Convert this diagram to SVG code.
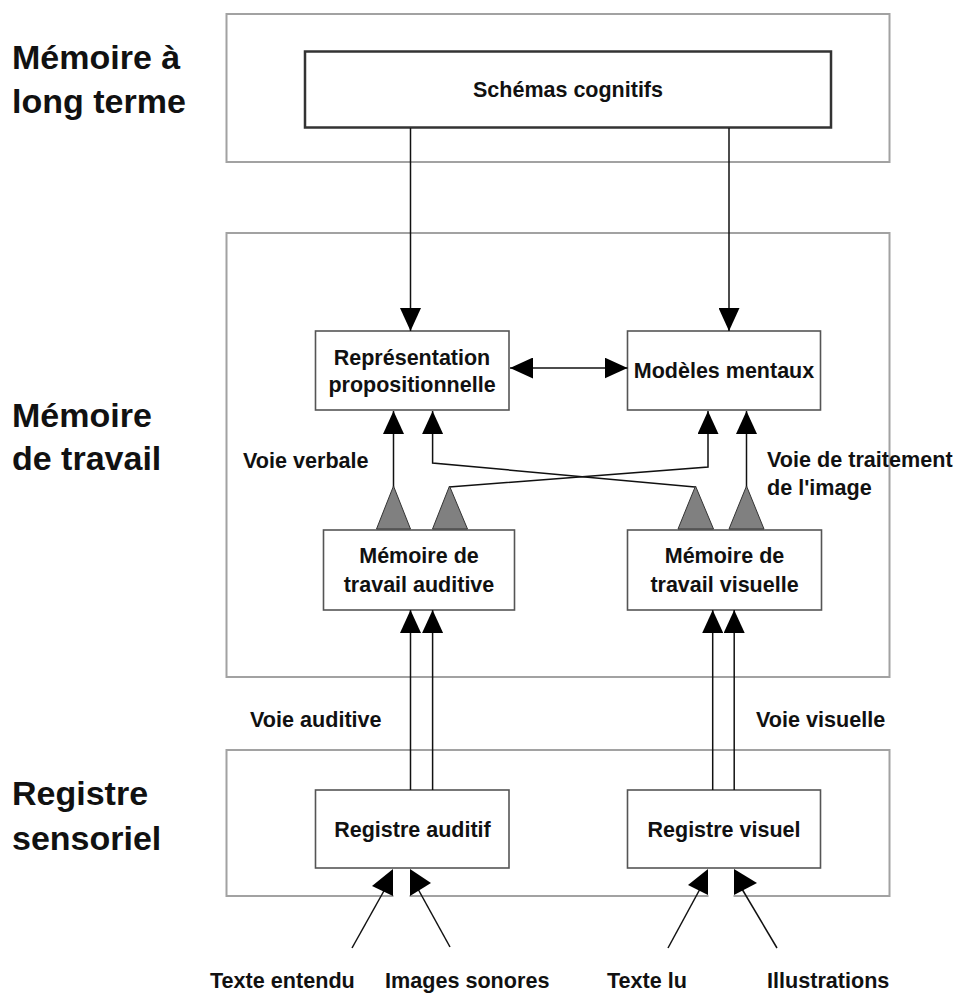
<svg xmlns="http://www.w3.org/2000/svg" width="958" height="997" viewBox="0 0 958 997">
<style>
text{font-family:"Liberation Sans",Arial,sans-serif;font-weight:bold;fill:#111}
.big{font-size:34px}
.lab{font-size:21.6px}
.nt{font-size:21.5px;text-anchor:middle}
.outer{fill:none;stroke:#a2a2a2;stroke-width:2}
.node{fill:#fff;stroke:#555;stroke-width:1.6}
.con{fill:none;stroke:#111;stroke-width:1.5}
.tri{fill:#808080;stroke:#333;stroke-width:1}
.head{fill:#000}
</style>
<defs>
<marker id="arr" markerUnits="userSpaceOnUse" markerWidth="23" markerHeight="21" viewBox="0 0 23 21" refX="23" refY="10.5" orient="auto-start-reverse">
<path d="M0,0 L23,10.5 L0,21 z" fill="#000"/>
</marker>
</defs>
<rect width="958" height="997" fill="#fff"/>

<g id="layer-labels">
<text class="big" x="12" y="69">Mémoire à</text>
<text class="big" x="12" y="113">long terme</text>
<text class="big" x="12" y="427">Mémoire</text>
<text class="big" x="12" y="470">de travail</text>
<text class="big" x="12" y="805">Registre</text>
<text class="big" x="12" y="850">sensoriel</text>
</g>

<g id="ltm"><rect class="outer" x="226.5" y="14" width="663" height="148"/></g>
<g id="wm"><rect class="outer" x="226.5" y="233" width="663" height="444"/></g>
<g id="sr"><rect class="outer" x="226.5" y="750" width="663" height="146"/></g>

<g id="schemas"><rect x="305" y="51.5" width="526" height="76" fill="#fff" stroke="#333" stroke-width="2.5"/>
<text class="nt" x="568" y="97">Schémas cognitifs</text></g>

<g id="rep"><rect class="node" x="315.5" y="331" width="193.5" height="79"/>
<text class="nt" x="412" y="365">Représentation</text>
<text class="nt" x="412" y="392">propositionnelle</text></g>

<g id="modeles"><rect class="node" x="627.5" y="331" width="193" height="79"/>
<text class="nt" x="724" y="378">Modèles mentaux</text></g>

<g id="mta"><rect class="node" x="323.5" y="530" width="191" height="80"/>
<text class="nt" x="419" y="563">Mémoire de</text>
<text class="nt" x="419" y="592">travail auditive</text></g>

<g id="mtv"><rect class="node" x="627.5" y="530" width="194" height="80"/>
<text class="nt" x="724.5" y="563">Mémoire de</text>
<text class="nt" x="724.5" y="592">travail visuelle</text></g>

<g id="rega"><rect class="node" x="315.5" y="790" width="193.5" height="78"/>
<text class="nt" x="412.5" y="837">Registre auditif</text></g>

<g id="regv"><rect class="node" x="627.5" y="790" width="193" height="78"/>
<text class="nt" x="724" y="837">Registre visuel</text></g>

<g id="connectors">
<line class="con" x1="410.5" y1="128" x2="410.5" y2="331" marker-end="url(#arr)"/>
<line class="con" x1="729" y1="128" x2="729" y2="331" marker-end="url(#arr)"/>
<line class="con" x1="510" y1="368" x2="627.5" y2="368" marker-start="url(#arr)" marker-end="url(#arr)"/>
<line class="con" x1="393.5" y1="487" x2="393.5" y2="411" marker-end="url(#arr)"/>
<polyline class="con" points="695,487 432.6,463 432.6,411" marker-end="url(#arr)"/>
<polyline class="con" points="449,487 708,467 708,411" marker-end="url(#arr)"/>
<line class="con" x1="746.5" y1="487" x2="746.5" y2="411" marker-end="url(#arr)"/>
<polygon class="tri" points="376.5,529 393.5,486 410.5,529"/>
<polygon class="tri" points="432.5,529 449.5,486 467.5,529"/>
<polygon class="tri" points="678,529 695.5,486 713.5,529"/>
<polygon class="tri" points="729,529 746.5,486 764,529"/>
<line class="con" x1="410.5" y1="790" x2="410.5" y2="610" marker-end="url(#arr)"/>
<line class="con" x1="432.6" y1="790" x2="432.6" y2="610" marker-end="url(#arr)"/>
<line class="con" x1="712.7" y1="790" x2="712.7" y2="610" marker-end="url(#arr)"/>
<line class="con" x1="734.2" y1="790" x2="734.2" y2="610" marker-end="url(#arr)"/>
<rect x="393.5" y="869" width="16" height="29" fill="#fff"/>
<rect x="708.5" y="869" width="25" height="29" fill="#fff"/>
<line class="con" x1="352" y1="948" x2="385" y2="889"/>
<polygon class="head" points="372,886 393,869 393,896"/>
<line class="con" x1="450" y1="947" x2="418" y2="889"/>
<polygon class="head" points="410,869 410,896 431,883"/>
<line class="con" x1="668" y1="948" x2="700" y2="889"/>
<polygon class="head" points="688,885 708,869 708,895"/>
<line class="con" x1="777" y1="948" x2="742" y2="889"/>
<polygon class="head" points="734,869 734,895 757,883"/>
</g>

<g id="edge-labels">
<text class="lab" x="243" y="468">Voie verbale</text>
<text class="lab" x="767" y="467">Voie de traitement</text>
<text class="lab" x="767" y="495">de l'image</text>
<text class="lab" x="250" y="727">Voie auditive</text>
<text class="lab" x="756" y="727">Voie visuelle</text>
<text class="lab" x="210" y="988">Texte entendu</text>
<text class="lab" x="385" y="988">Images sonores</text>
<text class="lab" x="607" y="988">Texte lu</text>
<text class="lab" x="767" y="988">Illustrations</text>
</g>
</svg>
